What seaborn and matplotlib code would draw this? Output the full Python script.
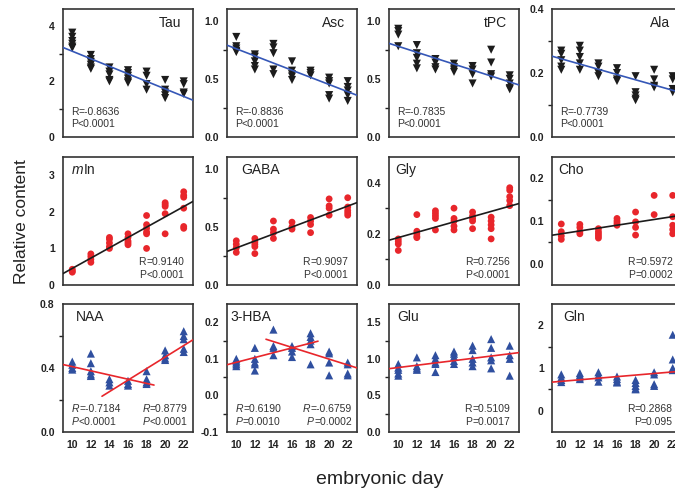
import numpy as np
import pandas as pd
import matplotlib
matplotlib.use("Agg")
import matplotlib.pyplot as plt
import seaborn as sns

# embryonic days
days = [10, 12, 14, 16, 18, 20, 22]

# values, one list per day
tau = [[3.75, 3.6, 3.45, 3.35, 3.25, 3.2], [2.95, 2.8, 2.7, 2.6, 2.5, 2.45],
       [2.5, 2.35, 2.25, 2.05, 2.0], [2.4, 2.3, 2.2, 2.1, 2.0, 1.95],
       [2.35, 2.2, 1.9, 1.7], [2.05, 1.7, 1.6, 1.5, 1.4], [2.0, 1.9, 1.6, 1.55]]
asc = [[0.86, 0.78, 0.76, 0.74, 0.73], [0.71, 0.69, 0.65, 0.61, 0.58],
       [0.80, 0.77, 0.72, 0.58, 0.54], [0.65, 0.57, 0.54, 0.52, 0.49],
       [0.57, 0.55, 0.53], [0.51, 0.48, 0.46, 0.36, 0.33], [0.48, 0.43, 0.40, 0.36, 0.31]]
tpc = [[0.93, 0.91, 0.88, 0.78], [0.79, 0.72, 0.68, 0.63, 0.59],
       [0.67, 0.64, 0.60, 0.58], [0.63, 0.60, 0.58, 0.56],
       [0.61, 0.58, 0.54, 0.46], [0.75, 0.64, 0.54, 0.52], [0.53, 0.50, 0.46, 0.42, 0.41]]
ala = [[0.27, 0.26, 0.24, 0.22, 0.21], [0.285, 0.27, 0.25, 0.23, 0.21],
       [0.23, 0.22, 0.20, 0.19], [0.215, 0.20, 0.18, 0.175],
       [0.19, 0.14, 0.13, 0.12, 0.115], [0.21, 0.18, 0.16, 0.155], [0.19, 0.18, 0.15, 0.14]]
mins = [[0.43, 0.38, 0.35], [0.85, 0.78, 0.70, 0.62], [1.3, 1.25, 1.15, 1.05, 1.0],
        [1.4, 1.3, 1.2, 1.15, 1.1], [1.9, 1.65, 1.55, 1.45, 1.4, 1.0],
        [2.25, 2.2, 2.15, 1.95, 1.4], [2.55, 2.45, 2.4, 2.1, 1.6, 1.55]]
gaba = [[0.38, 0.35, 0.32, 0.28], [0.40, 0.37, 0.35, 0.33, 0.27], [0.55, 0.48, 0.45, 0.40],
        [0.54, 0.50, 0.48], [0.58, 0.55, 0.52, 0.45], [0.74, 0.68, 0.66, 0.60],
        [0.75, 0.67, 0.64, 0.62, 0.60]]
gly = [[0.18, 0.17, 0.16, 0.135], [0.275, 0.21, 0.20, 0.19, 0.185],
       [0.29, 0.28, 0.27, 0.26, 0.215], [0.30, 0.26, 0.25, 0.23, 0.215],
       [0.285, 0.27, 0.26, 0.25, 0.22], [0.265, 0.25, 0.235, 0.22, 0.18],
       [0.38, 0.37, 0.345, 0.33, 0.31]]
cho = [[0.093, 0.075, 0.065, 0.057], [0.092, 0.085, 0.075, 0.07],
       [0.082, 0.075, 0.07, 0.065, 0.06], [0.106, 0.10, 0.095, 0.09],
       [0.121, 0.098, 0.085, 0.067], [0.16, 0.115], [0.16, 0.11, 0.09, 0.08, 0.07]]
naa = [[0.44, 0.42, 0.40, 0.39], [0.49, 0.43, 0.38, 0.36, 0.35], [0.33, 0.31, 0.29],
       [0.32, 0.30, 0.29], [0.38, 0.33, 0.31, 0.30], [0.51, 0.48, 0.46, 0.45],
       [0.63, 0.60, 0.58, 0.52, 0.50]]
hba = [[0.10, 0.095, 0.09, 0.085, 0.08], [0.13, 0.10, 0.09, 0.085, 0.068],
       [0.18, 0.135, 0.13, 0.11], [0.135, 0.13, 0.12, 0.105],
       [0.17, 0.16, 0.15, 0.14, 0.085], [0.12, 0.115, 0.09, 0.055],
       [0.09, 0.085, 0.06, 0.055]]
glu = [[0.93, 0.88, 0.85, 0.80, 0.77], [1.02, 0.90, 0.87, 0.85],
       [1.05, 1.0, 0.95, 0.93, 0.82], [1.1, 1.07, 1.03, 0.97, 0.93],
       [1.18, 1.12, 1.0, 0.95, 0.9], [1.27, 1.15, 1.02, 0.98, 0.87],
       [1.18, 1.05, 1.0, 0.77]]
gln = [[0.85, 0.78, 0.72, 0.67], [0.88, 0.83, 0.78, 0.74], [0.9, 0.83, 0.78, 0.68],
       [0.8, 0.74, 0.68, 0.66], [0.72, 0.65, 0.58, 0.52, 0.5],
       [0.9, 0.85, 0.62, 0.58], [1.78, 1.2, 1.0, 0.95]]

names = ["Tau", "Asc", "tPC", "Ala", "mIn", "GABA", "Gly", "Cho",
         "NAA", "3-HBA", "Glu", "Gln"]
series = [tau, asc, tpc, ala, mins, gaba, gly, cho, naa, hba, glu, gln]
# (R, P) strings; two pairs where two fits are drawn
r_vals = [["-0.8636"], ["-0.8836"], ["-0.7835"], ["-0.7739"], ["0.9140"], ["0.9097"],
          ["0.7256"], ["0.5972"], ["-0.7184", "0.8779"], ["0.6190", "-0.6759"],
          ["0.5109"], ["0.2868"]]
p_vals = [["<0.0001"], ["<0.0001"], ["<0.0001"], ["<0.0001"], ["<0.0001"], ["<0.0001"],
          ["<0.0001"], ["=0.0002"], ["<0.0001", "<0.0001"], ["=0.0010", "=0.0002"],
          ["=0.0017"], ["=0.095"]]

ylims = [(0, 4.6), (0, 1.1), (0, 1.1), (0, 0.4), (0, 3.5), (0, 1.1), (0, 0.5),
         (-0.05, 0.25), (0, 0.8), (-0.1, 0.25), (0, 1.75), (-0.5, 2.5)]
major = [[0, 2, 4], [0, 0.5, 1.0], [0, 0.5, 1.0], [0, 0.2, 0.4], [0, 1, 2, 3],
         [0, 0.5, 1.0], [0, 0.2, 0.4], [0, 0.1, 0.2], [0, 0.4, 0.8],
         [-0.1, 0, 0.1, 0.2], [0, 0.5, 1.0, 1.5], [0, 1, 2]]
minor = [[1, 3], [0.25, 0.75], [0.25, 0.75], [0.1, 0.3], [], [0.25, 0.75],
         [0.1, 0.3], [0.05, 0.15], [0.2, 0.6], [-0.05, 0.05, 0.15],
         [0.25, 0.75, 1.25], [0.5, 1.5]]
fmts = ["%d", "%.1f", "%.1f", "%.1f", "%d", "%.1f", "%.1f", "%.1f", "%.1f", "%.1f", "%.1f", "%d"]

sns.set_theme(style="white")
plt.rcParams["font.family"] = ["Liberation Sans", "DejaVu Sans"]

row_style = [
    dict(marker="v", color="#1c1c1c", line="#3557b7", s=34),
    dict(marker="o", color="#e8262b", line="#1c1c1c", s=24),
    dict(marker="^", color="#2f4f9f", line="#e8262b", s=34),
]

W, H = 675, 492
lefts = [63, 227, 389, 552]
tops = [9, 157, 304]
aw, ah = 130, 128

fig = plt.figure(figsize=(W / 100, H / 100), dpi=100)

title_x = [0.91, 0.91, 0.91, 0.91, 0.07, 0.11, 0.05, 0.05, 0.10, 0.03, 0.06, 0.09]
TXT = dict(fontsize=7.5, color="#333333")


def stat_block(ax, x, y, r, p, ha, italic):
    # two lines: R=..., P...; the letter is drawn as its own piece
    style = "italic" if italic else "normal"
    for k, (letter, rest) in enumerate([("R", "=" + r), ("P", p)]):
        yy = y - k * 0.1
        if ha == "left":
            t = ax.text(x, yy, letter, transform=ax.transAxes, ha="left", va="bottom",
                        style=style, **TXT)
            ax.annotate(rest, xy=(1, 0), xycoords=t, ha="left", va="bottom", **TXT)
        else:
            t = ax.text(x, yy, rest, transform=ax.transAxes, ha="right", va="bottom", **TXT)
            ax.annotate(letter, xy=(0, 0), xycoords=t, ha="right", va="bottom",
                        style=style, **TXT)


for i, (name, vals) in enumerate(zip(names, series)):
    r, c = divmod(i, 4)
    st = row_style[r]
    ax = fig.add_axes([lefts[c] / W, 1 - (tops[r] + ah) / H, aw / W, ah / H])
    df = pd.DataFrame([(d, v) for d, vs in zip(days, vals) for v in vs], columns=["day", "val"])
    ax.set_xlim(9, 23)
    ax.set_ylim(*ylims[i])
    sns.scatterplot(data=df, x="day", y="val", marker=st["marker"], color=st["color"],
                    s=st["s"], edgecolor="none", ax=ax, legend=False, zorder=3)
    if name in ("NAA", "3-HBA"):
        # two piecewise fits: days 10-18 and days 14-22
        a = df[df.day <= 18]
        b = df[df.day >= 14]
        k1, b1 = np.polyfit(a.day, a.val, 1)
        k2, b2 = np.polyfit(b.day, b.val, 1)
        xa = np.array([9, 18.8])
        xb = np.array([13.2, 23])
        ax.plot(xa, k1 * xa + b1, color=st["line"], lw=1.2, zorder=4)
        ax.plot(xb, k2 * xb + b2, color=st["line"], lw=1.2, zorder=4)
    else:
        sns.regplot(data=df, x="day", y="val", scatter=False, ci=None, truncate=False,
                    color=st["line"], line_kws=dict(lw=1.2, zorder=4), ax=ax)
    ax.set_xlim(9, 23)
    ax.set_ylim(*ylims[i])
    ax.set_xlabel("")
    ax.set_ylabel("")

    ax.set_xticks(days)
    ax.set_yticks(major[i])
    ax.set_yticks(minor[i], minor=True)
    ax.yaxis.set_major_formatter(matplotlib.ticker.FormatStrFormatter(fmts[i]))
    ax.tick_params(axis="x", direction="in", length=5, width=1, color="#222222",
                   labelsize=7.5, pad=6)
    ax.tick_params(axis="y", which="major", direction="out", length=4, width=1,
                   color="#222222", labelsize=7.5, pad=2)
    ax.tick_params(axis="y", which="minor", direction="out", length=3, width=1,
                   color="#222222", left=True)
    if r < 2:
        ax.set_xticklabels([])
    for lab in ax.get_xticklabels() + ax.get_yticklabels():
        lab.set_fontweight("bold")
        lab.set_color("#222222")
    for sp in ax.spines.values():
        sp.set_color("#333333")
        sp.set_linewidth(1.2)

    # metabolite name
    if r == 0:
        ax.text(title_x[i], 0.89, name, transform=ax.transAxes, ha="right", va="center",
                fontsize=10, color="#222222")
    elif name == "mIn":
        t = ax.text(title_x[i], 0.90, "m", transform=ax.transAxes, ha="left", va="center",
                    style="italic", fontsize=10, color="#222222")
        ax.annotate("In", xy=(1, 0.5), xycoords=t, ha="left", va="center",
                    fontsize=10, color="#222222")
    else:
        ax.text(title_x[i], 0.90, name, transform=ax.transAxes, ha="left", va="center",
                fontsize=10, color="#222222")

    # correlation text
    rs, ps = r_vals[i], p_vals[i]
    if r == 0:
        stat_block(ax, 0.06, 0.16, rs[0], ps[0], "left", False)
    elif len(rs) == 2:
        stat_block(ax, 0.07, 0.14, rs[0], ps[0], "left", True)
        stat_block(ax, 0.96, 0.14, rs[1], ps[1], "right", True)
    else:
        stat_block(ax, 0.93, 0.14, rs[0], ps[0], "right", False)

fig.text(380 / W, 1 - 480 / H, "embryonic day", ha="center", va="center", fontsize=14,
         color="#222222")
fig.text(22 / W, 1 - 222 / H, "Relative content", ha="center", va="center",
         rotation=90, fontsize=12.5, color="#222222")

fig.savefig("out.png", dpi=100)
